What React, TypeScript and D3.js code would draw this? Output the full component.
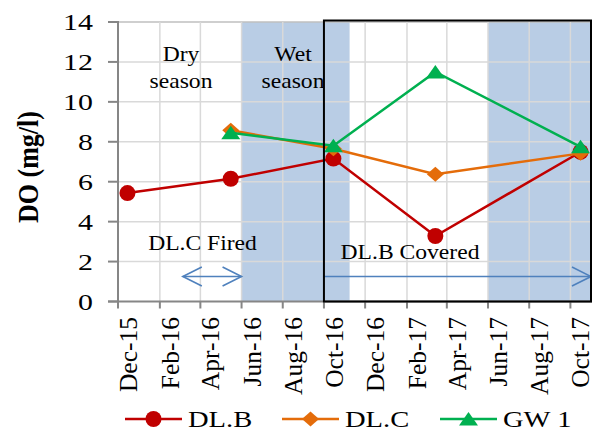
import React from "react";
import * as d3 from "d3";

const tickLabels = ["Dec-15", "Feb-16", "Apr-16", "Jun-16", "Aug-16", "Oct-16", "Dec-16", "Feb-17", "Apr-17", "Jun-17", "Aug-17", "Oct-17"];
const yTicks = [0, 2, 4, 6, 8, 10, 12, 14];

const dlbDates = ["2015-12-15", "2016-05-16", "2016-10-15", "2017-03-15", "2017-10-16"];
const dlbValues = [5.43, 6.15, 7.16, 3.28, 7.49];
const dlcDates = ["2016-05-16", "2016-10-15", "2017-03-15", "2017-10-16"];
const dlcValues = [8.58, 7.65, 6.37, 7.42];
const gwDates = ["2016-05-16", "2016-10-15", "2017-03-15", "2017-10-16"];
const gwValues = [8.45, 7.8, 11.5, 7.75];

const wetStarts = ["2016-06-01", "2017-06-01"];
const wetEnds = ["2016-11-08", "2017-11-02"];

const W = 592, H = 432;
const parseDay = d3.timeParse("%Y-%m-%d");
const parseTick = d3.timeParse("%b-%y");

const x = d3.scaleTime().domain([parseDay("2015-12-01")!, parseDay("2017-11-02")!]).range([118, 592]);
const y = d3.scaleLinear().domain([0, 14]).range([301.5, 22]);

const RED = "#c00000", ORANGE = "#e46c0a", GREEN = "#00b050", BLUE = "#4f81bd";
const SERIF = "Liberation Serif";

const lineGen = d3.line<[Date, number]>().x((d) => x(d[0])).y((d) => y(d[1]));

function zip(dates: string[], vals: number[]): [Date, number][] {
  return dates.map((d, i) => [parseDay(d)!, vals[i]]);
}

const series = [
  { name: "DL.B", color: RED, marker: "circle", pts: zip(dlbDates, dlbValues) },
  { name: "DL.C", color: ORANGE, marker: "diamond", pts: zip(dlcDates, dlcValues) },
  { name: "GW 1", color: GREEN, marker: "triangle", pts: zip(gwDates, gwValues) },
];

function Marker({ type, cx, cy, color }: { type: string; cx: number; cy: number; color: string }) {
  if (type === "circle") return <circle cx={cx} cy={cy} r={8} fill={color} />;
  if (type === "diamond")
    return <path d={`M${cx},${cy - 7.5}L${cx + 8.5},${cy}L${cx},${cy + 7.5}L${cx - 8.5},${cy}Z`} fill={color} />;
  return <path d={`M${cx},${cy - 7}L${cx + 9.5},${cy + 6.5}L${cx - 9.5},${cy + 6.5}Z`} fill={color} />;
}

function HText({ x0, y0, size, sx, anchor, children, bold }: any) {
  return (
    <text
      transform={`translate(${x0},${y0}) scale(${sx},1)`}
      style={{ fontFamily: SERIF, fontSize: size, fontWeight: bold ? "bold" : "normal" }}
      textAnchor={anchor}
      fill="#000"
    >
      {children}
    </text>
  );
}

export default function App() {
  const ticks = tickLabels.map((t) => ({ label: t, date: parseTick(t)! }));
  const plotRight = 592;
  const arrowY = y(1.25);
  const dblStart = x(parseDay("2016-03-06")!);
  const dblEnd = x(parseDay("2016-06-01")!);
  const covStart = x(parseDay("2016-10-01")!);
  const covEnd = 591;
  const ah = 19, aw = 9.5;

  return (
    <svg width={W} height={H} style={{ position: "absolute", left: 0, top: 0, background: "#fff" }}>
      {/* wet season shading */}
      {wetStarts.map((s, i) => (
        <rect
          key={i}
          x={x(parseDay(s)!)}
          y={y(14)}
          width={Math.min(plotRight, x(parseDay(wetEnds[i])!)) - x(parseDay(s)!)}
          height={y(0) - y(14)}
          fill="#b9cde5"
        />
      ))}
      {/* gridlines */}
      {yTicks.filter((v) => v > 0).map((v) => (
        <line key={v} x1={118} x2={plotRight} y1={y(v)} y2={y(v)} stroke={v === 14 ? "#bfbfbf" : "#d9d9d9"} strokeWidth={1.5} />
      ))}
      {ticks.slice(1).map((t) => (
        <line key={t.label} x1={x(t.date)} x2={x(t.date)} y1={y(14)} y2={y(0)} stroke="#d9d9d9" strokeWidth={1.5} />
      ))}
      {/* axes */}
      <line x1={118} x2={118} y1={y(14) - 1} y2={y(0) + 1} stroke="#868686" strokeWidth={2} />
      <line x1={108} x2={plotRight} y1={y(0)} y2={y(0)} stroke="#868686" strokeWidth={2} />
      {yTicks.map((v) => (
        <g key={v}>
          <line x1={108} x2={118} y1={y(v)} y2={y(v)} stroke="#868686" strokeWidth={2} />
          <HText x0={93} y0={y(v) + 8} size={23} sx={1.3} anchor="end">{v}</HText>
        </g>
      ))}
      {ticks.map((t) => (
        <g key={t.label}>
          <line x1={x(t.date)} x2={x(t.date)} y1={y(0)} y2={y(0) + 7} stroke="#868686" strokeWidth={2} />
          <text
            transform={`translate(${x(t.date) + 19},${317}) rotate(-90)`}
            style={{ fontFamily: SERIF, fontSize: 25.5 }}
            textAnchor="end"
            fill="#000"
          >
            {t.label}
          </text>
        </g>
      ))}
      {/* y label */}
      <text
        transform={`translate(38,167) rotate(-90) scale(1,1.16)`}
        style={{ fontFamily: SERIF, fontSize: 26, fontWeight: "bold" }}
        textAnchor="middle"
        fill="#000"
      >
        DO (mg/l)
      </text>
      {/* annotations */}
      <HText x0={181} y0={61} size={20} sx={1.18} anchor="middle">Dry</HText>
      <HText x0={181} y0={88} size={20} sx={1.18} anchor="middle">season</HText>
      <HText x0={293} y0={61} size={20} sx={1.18} anchor="middle">Wet</HText>
      <HText x0={293} y0={88} size={20} sx={1.18} anchor="middle">season</HText>
      <HText x0={202.5} y0={250} size={20} sx={1.18} anchor="middle">DL.C Fired</HText>
      <HText x0={410} y0={259} size={20} sx={1.18} anchor="middle">DL.B Covered</HText>
      {/* arrows */}
      <g stroke={BLUE} strokeWidth={1.6} fill="none">
        <line x1={dblStart} x2={dblEnd} y1={arrowY} y2={arrowY} />
        <path d={`M${dblStart + ah},${arrowY - aw}L${dblStart},${arrowY}L${dblStart + ah},${arrowY + aw}`} />
        <path d={`M${dblEnd - ah},${arrowY - aw}L${dblEnd},${arrowY}L${dblEnd - ah},${arrowY + aw}`} />
        <line x1={covStart} x2={covEnd} y1={arrowY} y2={arrowY} />
        <path d={`M${covEnd - ah},${arrowY - aw}L${covEnd},${arrowY}L${covEnd - ah},${arrowY + aw}`} />
      </g>
      {/* series */}
      {series.map((s) => (
        <g key={s.name}>
          <path d={lineGen(s.pts)!} fill="none" stroke={s.color} strokeWidth={2.5} />
          {s.pts.map((p, i) => (
            <Marker key={i} type={s.marker} cx={x(p[0])} cy={y(p[1])} color={s.color} />
          ))}
        </g>
      ))}
      {/* covered box */}
      <rect x={covStart} y={20.5} width={591 - covStart} height={y(0) - 20.5} fill="none" stroke="#000" strokeWidth={2} />
      {/* legend */}
      {series.map((s, i) => {
        const lx = [125, 282, 440][i];
        const ly = 419;
        return (
          <g key={s.name}>
            <line x1={lx} x2={lx + 57} y1={ly} y2={ly} stroke={s.color} strokeWidth={2.5} />
            <Marker type={s.marker} cx={lx + 28.5} cy={ly} color={s.color} />
            <HText x0={lx + 63} y0={427} size={22.5} sx={1.27} anchor="start">{s.name}</HText>
          </g>
        );
      })}
    </svg>
  );
}
